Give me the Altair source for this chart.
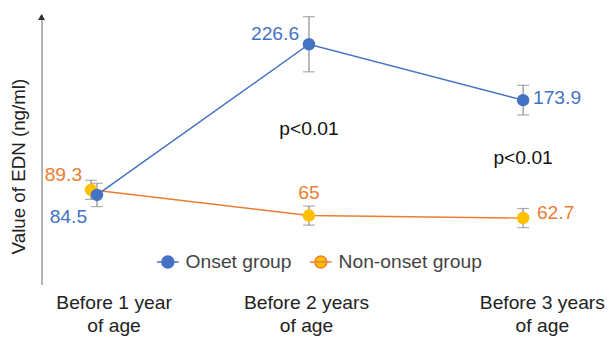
import json
import altair as alt
import pandas as pd

# ---------------- data ----------------
categories = ["Before 1 year\nof age", "Before 2 years\nof age", "Before 3 years\nof age"]
groups = ["Onset group", "Non-onset group"]
onset_values = [84.5, 226.6, 173.9]
onset_err = [11, 26, 14]
nononset_values = [89.3, 65, 62.7]
nononset_err = [9, 9, 9]
p_labels = ["p<0.01", "p<0.01"]
p_cat_index = [1, 2]
p_y = [147, 119]

BLUE = "#4472C4"
ORANGE = "#ED7D31"
YELLOW = "#FFC000"
GRAY = "#8a8a8a"
FONT = "Liberation Sans"

rows = []
for g, vals, errs in [(groups[1], nononset_values, nononset_err),
                      (groups[0], onset_values, onset_err)]:
    for i, (v, e) in enumerate(zip(vals, errs)):
        rows.append({"group": g, "idx": i, "category": categories[i],
                     "value": v, "lo": v - e, "hi": v + e})
df = pd.DataFrame(rows)

p_df = pd.DataFrame({"text": p_labels, "idx": p_cat_index, "y": p_y})

xscale = alt.Scale(domain=[-0.2488, 2.2765], nice=False, zero=False)
yscale = alt.Scale(domain=[0, 255], nice=False, zero=False)

cat_json = json.dumps(categories)
xaxis = alt.Axis(
    values=[0, 1, 2], title=None, domain=False, ticks=False, tickSize=0, grid=False,
    labelExpr=f"split({cat_json}[datum.value], '\\n')",
    labelFontSize=19.5, labelLineHeight=24, labelPadding=9, labelColor="#222",
    labelFont=FONT, labelOverlap=False, labelFlush=False,
    labelOffset=alt.ExprRef("datum.value == 1 ? -3 : 19"),
)
yaxis = alt.Axis(
    title="Value of EDN (ng/ml)", labels=False, ticks=False, grid=False,
    domain=True, domainColor="#999", domainWidth=1.5,
    titleFontSize=19, titleFontWeight="normal", titleColor="#222", titleFont=FONT,
    titleX=-23, titleY=154, titleAngle=270, titleAlign="center", titleBaseline="middle",
)

base = alt.Chart(df).transform_calculate(
    pos="datum.idx + (datum.idx == 0 ? (datum.group == 'Onset group' ? 0.01 : -0.018) : 0)"
)
X = alt.X("pos:Q", scale=xscale, axis=xaxis)

sym = "M-1,0H1M0.55,0A0.55,0.55,0,1,1,-0.55,0A0.55,0.55,0,1,1,0.55,0Z"
legend = alt.Legend(
    title=None, orient="none", legendX=116, legendY=239, direction="horizontal",
    symbolType=sym, symbolSize=484, symbolStrokeWidth=1.5, labelFontSize=19.5,
    labelFont=FONT, labelColor="#444", labelOffset=6, columnPadding=15, padding=0,
)

lines = base.mark_line(strokeWidth=1.5).encode(
    x=X,
    y=alt.Y("value:Q", scale=yscale, axis=yaxis),
    stroke=alt.Stroke("group:N", scale=alt.Scale(domain=groups, range=[BLUE, ORANGE]), legend=legend),
    detail="group:N",
)

err_rule = base.mark_rule(color=GRAY, strokeWidth=1.2).encode(
    x=X, y=alt.Y("lo:Q", scale=yscale), y2="hi:Q"
)
cap_lo = base.mark_tick(color=GRAY, orient="horizontal", size=12, thickness=1.2).encode(
    x=X, y=alt.Y("lo:Q", scale=yscale)
)
cap_hi = base.mark_tick(color=GRAY, orient="horizontal", size=12, thickness=1.2).encode(
    x=X, y=alt.Y("hi:Q", scale=yscale)
)

points = base.mark_point(filled=True, size=160, opacity=1, strokeWidth=0).encode(
    x=X,
    y=alt.Y("value:Q", scale=yscale),
    fill=alt.Fill("group:N", scale=alt.Scale(domain=groups, range=[BLUE, YELLOW]), legend=legend),
)


def value_label(group, idx, align, dx, dy, color):
    return base.transform_filter(
        f"datum.group == '{group}' && datum.idx == {idx}"
    ).mark_text(align=align, baseline="middle", dx=dx, dy=dy, fontSize=19.5,
                font=FONT, color=color).encode(
        x=X, y=alt.Y("value:Q", scale=yscale), text="value:Q"
    )


labels = [
    value_label(groups[0], 0, "right", -10, 22, BLUE),
    value_label(groups[0], 1, "right", -10, -10, BLUE),
    value_label(groups[0], 2, "left", 10, -2, BLUE),
    value_label(groups[1], 0, "right", -9, -15, ORANGE),
    value_label(groups[1], 1, "center", 0, -23, ORANGE),
    value_label(groups[1], 2, "left", 14, -5, ORANGE),
]

ptext = alt.Chart(p_df).mark_text(fontSize=19.5, font=FONT, color="#111", baseline="middle").encode(
    x=alt.X("idx:Q", scale=xscale), y=alt.Y("y:Q", scale=yscale), text="text:N"
)

arrow = alt.Chart(p_df).mark_point(shape="triangle-up", filled=True, size=45, color="#333", opacity=1).encode(
    x=alt.value(0), y=alt.value(3)
)

chart = alt.layer(lines, err_rule, cap_lo, cap_hi, points, *labels, ptext, arrow).properties(
    width=548, height=274,
    padding={"left": 34, "top": 4, "right": 24, "bottom": 54},
    autosize="none",
    background="white",
).configure_view(stroke=None).resolve_scale(x="shared", y="shared")

chart.save("out.html", embed_options={"renderer": "svg", "actions": False})
